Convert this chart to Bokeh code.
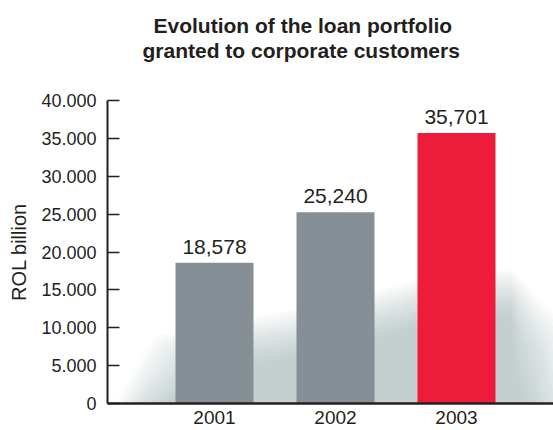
from bokeh.plotting import figure
from bokeh.models import Range1d, FixedTicker, ColumnDataSource, Title
from bokeh.core.properties import value
from bokeh.embed import file_html
from bokeh.resources import INLINE

years = [2001, 2002, 2003]
loans = [18578, 25240, 35701]
bar_colors = ["#868f95", "#868f95", "#ee1c3b"]
value_labels = ["18,578", "25,240", "35,701"]
y_ticks = [0, 5000, 10000, 15000, 20000, 25000, 30000, 35000, 40000]
y_tick_labels = ["0", "5.000", "10.000", "15.000", "20.000", "25.000", "30.000", "35.000", "40.000"]
x_tick_labels = ["2001", "2002", "2003"]
title_lines = ["Evolution of the loan portfolio", "granted to corporate customers"]

FONT = "Liberation Sans"
INK = "#231f20"

W, H = 553, 430
LEFT = 107
FRAME_W = W - LEFT
x_start = 2001 - 107 / 121
x_end = x_start + FRAME_W / 121

p = figure(width=W, height=H, output_backend="svg", toolbar_location=None,
           x_range=Range1d(x_start, x_end), y_range=Range1d(0, 40000),
           min_border_left=LEFT, min_border_right=0, min_border_top=100, min_border_bottom=27)
p.outline_line_color = None
p.background_fill_color = "white"
p.border_fill_color = "white"
p.xgrid.visible = False
p.ygrid.visible = False

p.title.visible = False
spacer = Title(text=".", align="left", standoff=29, text_font=FONT, text_font_size="10px",
               text_color="white")
t2 = Title(text=title_lines[1], align="left", offset=35, standoff=0,
           text_font=FONT, text_font_size="21px", text_font_style="bold", text_color=INK)
t1 = Title(text=title_lines[0], align="left", offset=46, standoff=0,
           text_font=FONT, text_font_size="21px", text_font_style="bold", text_color=INK)
p.add_layout(spacer, "above")
p.add_layout(t2, "above")
p.add_layout(t1, "above")

# soft shadow behind bars, following the bar heights
n_layers = 14
hs = [0.43 * v for v in loans]
for k in range(n_layers):
    t = k / (n_layers - 1)
    dy = 2500 - 6000 * t
    dx = 0.2 - 0.4 * t
    x0, x1, x2 = years
    xs = [x0 - 0.62 - dx, x0 - 0.3 - dx, x0, x1, x2, x2 + 0.45, x2 + 0.7 + dx, x2 + 0.8 + dx]
    ys = [0, 0.8 * hs[0] + dy, hs[0] + dy, hs[1] + dy, hs[2] + dy, hs[2] + dy, 0.5 * hs[2] + dy, 0]
    p.patch(xs, ys, fill_color="#94979b", fill_alpha=0.045, line_color=None)

src = ColumnDataSource(dict(x=years, top=loans, color=bar_colors, label=value_labels))
p.vbar(x="x", top="top", bottom=0, width=78 / 121, fill_color="color", line_color=None, source=src)
p.text(x="x", y="top", text="label", source=src, text_align="center", text_baseline="bottom",
       y_offset=-9, text_font=value(FONT), text_font_size="21px", text_color=INK)

ya = p.yaxis[0]
ya.ticker = FixedTicker(ticks=y_ticks)
ya.major_label_overrides = {t: l for t, l in zip(y_ticks, y_tick_labels)}
ya.axis_label = "ROL billion"
ya.axis_label_text_font = FONT
ya.axis_label_text_font_size = "20px"
ya.axis_label_text_font_style = "normal"
ya.axis_label_text_color = INK
ya.axis_label_standoff = 8
ya.major_label_text_font = FONT
ya.major_label_text_font_size = "18px"
ya.major_label_text_color = INK
ya.major_label_standoff = 11
ya.major_tick_in = 12
ya.major_tick_out = 0
ya.major_tick_line_width = 1.5
ya.major_tick_line_color = INK
ya.minor_tick_line_color = None
ya.axis_line_width = 2
ya.axis_line_color = INK

xa = p.xaxis[0]
xa.ticker = FixedTicker(ticks=years)
xa.major_label_overrides = {t: l for t, l in zip(years, x_tick_labels)}
xa.major_label_text_font = FONT
xa.major_label_text_font_size = "19px"
xa.major_label_text_color = INK
xa.major_label_standoff = 7
xa.major_tick_in = 0
xa.major_tick_out = 0
xa.minor_tick_line_color = None
xa.axis_line_width = 2.5
xa.axis_line_color = INK

open("out.html", "w").write(file_html(p, INLINE))
